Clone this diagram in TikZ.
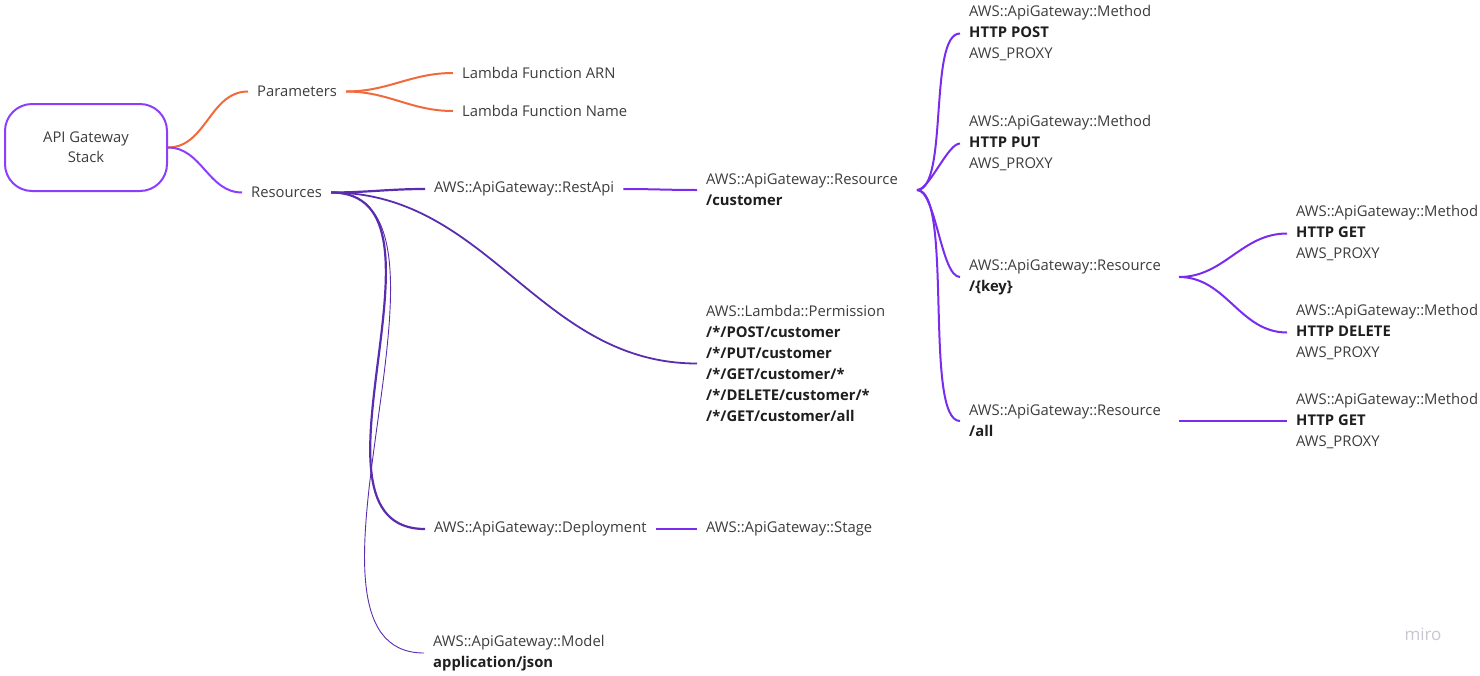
\documentclass[tikz,border=0pt]{standalone}
\usepackage{fontspec}
\setmainfont{Open Sans}

\definecolor{textgray}{HTML}{3C3C3C}
\definecolor{textdark}{HTML}{1E1E1E}
\definecolor{rootviolet}{HTML}{8A3FFC}
\definecolor{paramorange}{HTML}{F06A3C}
\definecolor{resindigo}{HTML}{5A2CAE}
\definecolor{leafpurple}{HTML}{7A2CEE}
\definecolor{logogray}{HTML}{C6C7D2}

\newcommand{\boldline}[1]{\textcolor{textdark}{\textbf{#1}}}

\begin{document}
\begin{tikzpicture}[x=1pt, y=-1pt,
  mapnode/.style={anchor=west, inner xsep=9pt, inner ysep=0pt, align=left, text=textgray, font=\fontsize{14.8}{21}\selectfont},
  orangelink/.style={paramorange, line width=2pt, out=0, in=180},
  violetlink/.style={rootviolet, line width=2pt, out=0, in=180},
  indigolink/.style={resindigo, line width=2.2pt, out=0, in=180},
  purplelink/.style={leafpurple, line width=2pt, out=0, in=180}]
  \useasboundingbox (0,0) rectangle (1480,675);
  % draw root box
  \node[draw=rootviolet, line width=2pt, rounded corners=27pt, minimum width=162pt, minimum height=87pt, inner sep=0pt, align=center, text=textgray, font=\fontsize{14.8}{20}\selectfont] (root) at (86,147.5) {API Gateway\\Stack};
  % first level
  \node[mapnode] (params) at (248,91.5) {Parameters};
  \node[mapnode] (res) at (242,192.5) {Resources};
  \node[mapnode] (lambda_arn) at (453,73) {Lambda Function ARN};
  \node[mapnode] (lambda_name) at (453,111) {Lambda Function Name};
  % resources of the stack
  \node[mapnode] (rest_api) at (425,189) {AWS::ApiGateway::RestApi};
  \node[mapnode] (permission) at (697,363.5) {AWS::Lambda::Permission\\\boldline{/*/POST/customer}\\\boldline{/*/PUT/customer}\\\boldline{/*/GET/customer/*}\\\boldline{/*/DELETE/customer/*}\\\boldline{/*/GET/customer/all}};
  \node[mapnode] (deployment) at (425,529) {AWS::ApiGateway::Deployment};
  \node[mapnode] (model) at (424,653) {AWS::ApiGateway::Model\\\boldline{application/json}};
  \node[mapnode] (res_customer) at (697,190) {AWS::ApiGateway::Resource\\\boldline{/customer}};
  \node[mapnode] (stage) at (697,529) {AWS::ApiGateway::Stage};
  % methods and sub resources
  \node[mapnode] (method_post) at (960,33.5) {AWS::ApiGateway::Method\\\boldline{HTTP POST}\\AWS\_PROXY};
  \node[mapnode] (method_put) at (960,143.5) {AWS::ApiGateway::Method\\\boldline{HTTP PUT}\\AWS\_PROXY};
  \node[mapnode] (res_key) at (960,277) {AWS::ApiGateway::Resource\\\boldline{/\{key\}}};
  \node[mapnode] (res_all) at (960,421) {AWS::ApiGateway::Resource\\\boldline{/all}};
  \node[mapnode] (method_get) at (1287,233.5) {AWS::ApiGateway::Method\\\boldline{HTTP GET}\\AWS\_PROXY};
  \node[mapnode] (method_delete) at (1287,332.5) {AWS::ApiGateway::Method\\\boldline{HTTP DELETE}\\AWS\_PROXY};
  \node[mapnode] (method_get_all) at (1287,421) {AWS::ApiGateway::Method\\\boldline{HTTP GET}\\AWS\_PROXY};
  \coordinate (customer_out) at ([xshift=10pt]res_customer.east);
  \coordinate (key_out) at ([xshift=9pt]res_key.east);
  \coordinate (all_out) at ([xshift=9pt]res_all.east);
  % draw branches
  \draw[orangelink] (root.east) to (params.west);
  \draw[violetlink] (root.east) to (res.west);
  \draw[orangelink] (params.east) to (lambda_arn.west);
  \draw[orangelink] (params.east) to (lambda_name.west);
  \draw[indigolink] (res.east) to (rest_api.west);
  \draw[indigolink, line width=1.8pt] (res.east) to (permission.west);
  \draw[indigolink] (res.east) to (deployment.west);
  \draw[indigolink, line width=0.9pt, looseness=0.85] (res.east) to (model.west);
  \draw[purplelink] (rest_api.east) to (res_customer.west);
  \draw[purplelink] (deployment.east) to (stage.west);
  \draw[purplelink, looseness=0.5] (customer_out) to (method_post.west);
  \draw[purplelink, looseness=0.5] (customer_out) to (method_put.west);
  \draw[purplelink, looseness=0.5] (customer_out) to (res_key.west);
  \draw[purplelink, looseness=0.4] (customer_out) to (res_all.west);
  \draw[purplelink] (key_out) to (method_get.west);
  \draw[purplelink] (key_out) to (method_delete.west);
  \draw[purplelink] (all_out) to (method_get_all.west);
  % board logo
  \node[text=logogray, font=\fontsize{17}{17}\selectfont] (logo) at (1423,634) {miro};
\end{tikzpicture}
\end{document}
